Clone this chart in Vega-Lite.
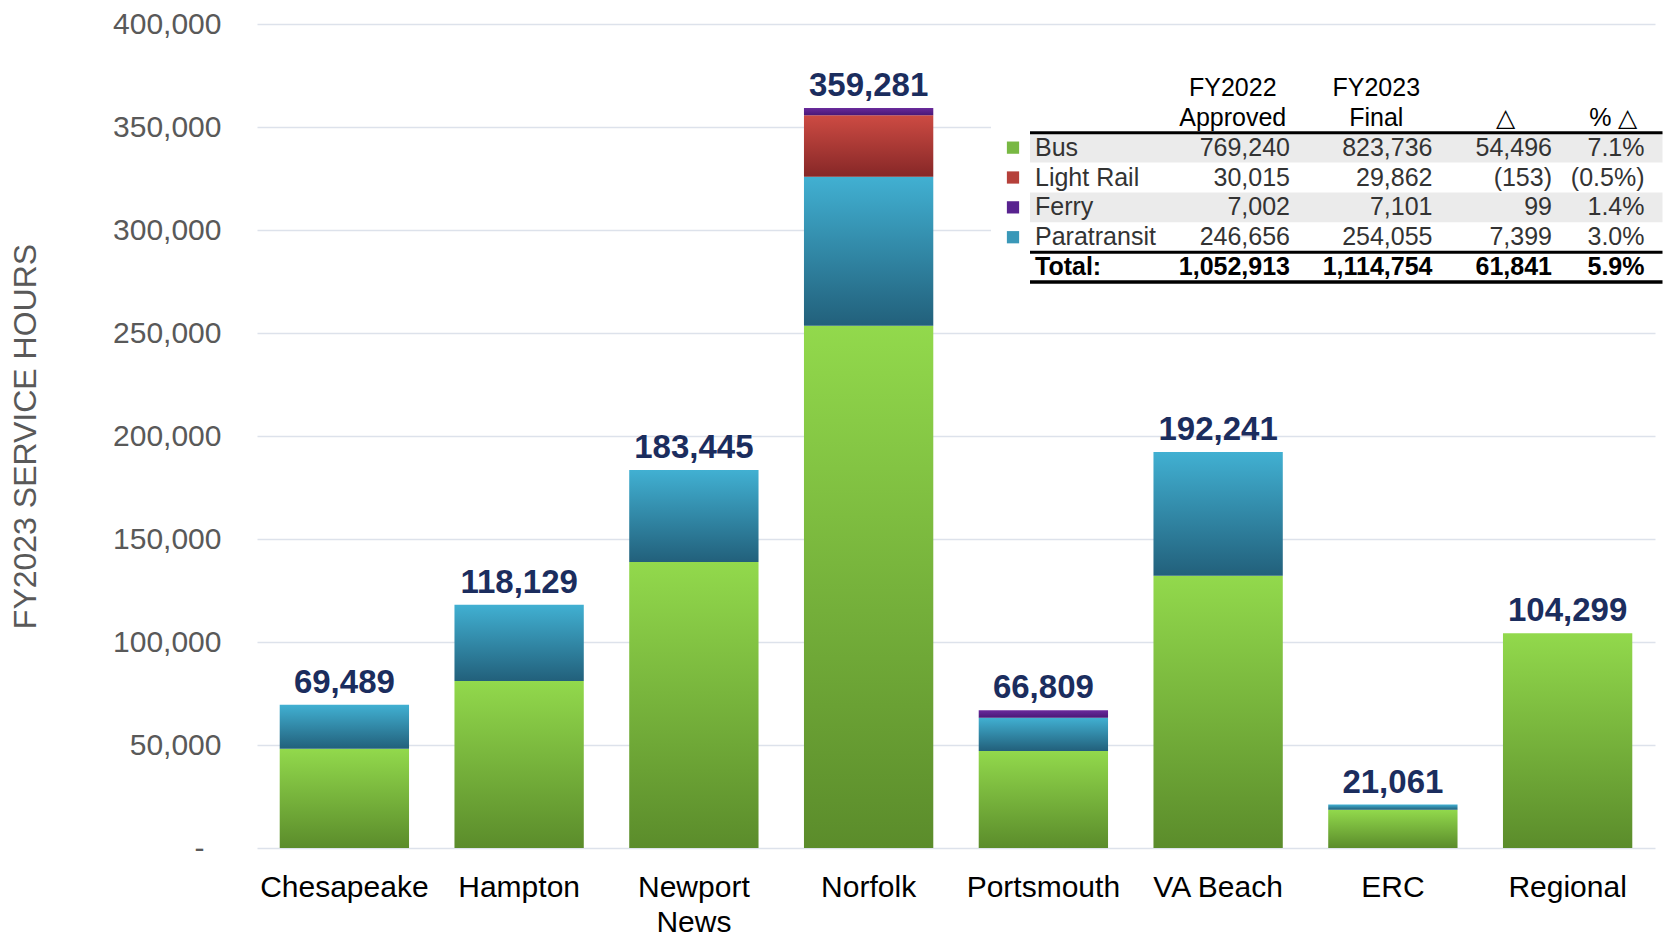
{
  "$schema": "https://vega.github.io/schema/vega-lite/v6.json",
  "width": 1398,
  "height": 824,
  "autosize": {"type": "none"},
  "padding": {"left": 257, "top": 24, "right": 10, "bottom": 90},
  "background": "white",
  "config": {"view": {"stroke": null}, "font": "Liberation Sans, Arial, sans-serif"},
  "datasets": {
    "hours": [
      {"city": "Chesapeake", "mode": "Bus", "hours": 48120},
      {"city": "Chesapeake", "mode": "Paratransit", "hours": 21369},
      {"city": "Hampton", "mode": "Bus", "hours": 81120},
      {"city": "Hampton", "mode": "Paratransit", "hours": 37009},
      {"city": "Newport News", "mode": "Bus", "hours": 138820},
      {"city": "Newport News", "mode": "Paratransit", "hours": 44625},
      {"city": "Norfolk", "mode": "Bus", "hours": 253517},
      {"city": "Norfolk", "mode": "Paratransit", "hours": 72352},
      {"city": "Norfolk", "mode": "Light Rail", "hours": 29862},
      {"city": "Norfolk", "mode": "Ferry", "hours": 3550},
      {"city": "Portsmouth", "mode": "Bus", "hours": 47120},
      {"city": "Portsmouth", "mode": "Paratransit", "hours": 16138},
      {"city": "Portsmouth", "mode": "Ferry", "hours": 3551},
      {"city": "VA Beach", "mode": "Bus", "hours": 132120},
      {"city": "VA Beach", "mode": "Paratransit", "hours": 60121},
      {"city": "ERC", "mode": "Bus", "hours": 18620},
      {"city": "ERC", "mode": "Paratransit", "hours": 2441},
      {"city": "Regional", "mode": "Bus", "hours": 104299}
    ],
    "table": [
      {"mode": "Bus", "fy22": 769240, "fy23": 823736, "delta": 54496, "pct": 0.071},
      {"mode": "Light Rail", "fy22": 30015, "fy23": 29862, "delta": -153, "pct": -0.005},
      {"mode": "Ferry", "fy22": 7002, "fy23": 7101, "delta": 99, "pct": 0.014},
      {"mode": "Paratransit", "fy22": 246656, "fy23": 254055, "delta": 7399, "pct": 0.03},
      {"mode": "Total:", "fy22": 1052913, "fy23": 1114754, "delta": 61841, "pct": 0.059}
    ],
    "headers": [
      {"column": "FY2022 Approved", "row": "h1", "label": "FY2022"},
      {"column": "FY2022 Approved", "row": "h2", "label": "Approved"},
      {"column": "FY2023 Final", "row": "h1", "label": "FY2023"},
      {"column": "FY2023 Final", "row": "h2", "label": "Final"},
      {"column": "Δ", "row": "h2", "label": "△"},
      {"column": "% Δ", "row": "h2", "label": "% △"}
    ]
  },
  "layer": [
    {
      "data": {"name": "hours"},
      "transform": [{"stack": "hours", "groupby": ["city"], "as": ["y0", "y1"]}],
      "encoding": {
        "x": {
          "field": "city", "type": "nominal",
          "sort": ["Chesapeake", "Hampton", "Newport News", "Norfolk", "Portsmouth", "VA Beach", "ERC", "Regional"],
          "scale": {"paddingInner": 0.26, "paddingOuter": 0.13},
          "axis": {
            "title": null, "labelAngle": 0, "labelFontSize": 30, "labelColor": "#000000",
            "labelFont": "Liberation Sans, Arial, sans-serif",
            "labelPadding": 24, "labelBaseline": "top", "ticks": false, "domain": false,
            "labelOverlap": false, "labelBound": false, "labelLineHeight": 35,
            "labelExpr": "datum.value === 'Newport News' ? ['Newport', 'News'] : datum.value"
          }
        },
        "y": {
          "field": "y0", "type": "quantitative",
          "scale": {"domain": [0, 400000], "nice": false},
          "axis": {
            "title": "FY2023 SERVICE HOURS",
            "values": [0, 50000, 100000, 150000, 200000, 250000, 300000, 350000, 400000],
            "labelExpr": "datum.value === 0 ? '-' : format(datum.value, ',')",
            "labelPadding": {"condition": {"test": "datum.value === 0", "value": 53}, "value": 36},
            "labelFontSize": 30, "labelColor": "#595959", "labelFont": "Liberation Sans, Arial, sans-serif",
            "ticks": false, "domain": false, "grid": true,
            "gridColor": "#dde2eb", "gridWidth": 1.3,
            "titleFontSize": 32, "titleFont": "Liberation Sans, Arial, sans-serif", "titleFontWeight": "normal",
            "titleColor": "#595959", "titlePadding": 70
          }
        }
      },
      "layer": [
        {
          "transform": [{"filter": "datum.mode === 'Bus'"}],
          "mark": {"type": "bar", "color": {"gradient": "linear", "x1": 0, "y1": 0, "x2": 0, "y2": 1,
            "stops": [{"offset": 0, "color": "#92d94c"}, {"offset": 1, "color": "#5b8c2b"}]}},
          "encoding": {"y2": {"field": "y1"}}
        },
        {
          "transform": [{"filter": "datum.mode === 'Paratransit'"}],
          "mark": {"type": "bar", "color": {"gradient": "linear", "x1": 0, "y1": 0, "x2": 0, "y2": 1,
            "stops": [{"offset": 0, "color": "#41b0d2"}, {"offset": 1, "color": "#22607b"}]}},
          "encoding": {"y2": {"field": "y1"}}
        },
        {
          "transform": [{"filter": "datum.mode === 'Light Rail'"}],
          "mark": {"type": "bar", "color": {"gradient": "linear", "x1": 0, "y1": 0, "x2": 0, "y2": 1,
            "stops": [{"offset": 0, "color": "#cd4b43"}, {"offset": 1, "color": "#862727"}]}},
          "encoding": {"y2": {"field": "y1"}}
        },
        {
          "transform": [{"filter": "datum.mode === 'Ferry'"}],
          "mark": {"type": "bar", "color": {"gradient": "linear", "x1": 0, "y1": 0, "x2": 0, "y2": 1,
            "stops": [{"offset": 0, "color": "#6a2a9c"}, {"offset": 1, "color": "#4a1877"}]}},
          "encoding": {"y2": {"field": "y1"}}
        },
        {
          "transform": [{"aggregate": [{"op": "sum", "field": "hours", "as": "total"}], "groupby": ["city"]}],
          "mark": {"type": "text", "fontSize": 33, "fontWeight": "bold", "color": "#1b2d5e",
            "baseline": "alphabetic", "dy": -12, "font": "Liberation Sans, Arial, sans-serif"},
          "encoding": {
            "y": {
              "field": "total", "type": "quantitative",
              "scale": {"domain": [0, 400000], "nice": false},
              "axis": {
                "title": "FY2023 SERVICE HOURS",
                "values": [0, 50000, 100000, 150000, 200000, 250000, 300000, 350000, 400000],
                "labelExpr": "datum.value === 0 ? '-' : format(datum.value, ',')",
                "labelPadding": {"condition": {"test": "datum.value === 0", "value": 53}, "value": 36},
                "labelFontSize": 30, "labelColor": "#595959", "labelFont": "Liberation Sans, Arial, sans-serif",
                "ticks": false, "domain": false, "grid": true,
                "gridColor": "#dde2eb", "gridWidth": 1.3,
                "titleFontSize": 32, "titleFont": "Liberation Sans, Arial, sans-serif", "titleFontWeight": "normal",
                "titleColor": "#595959", "titlePadding": 70
              }
            },
            "text": {"field": "total", "type": "quantitative", "format": ","}
          }
        }
      ]
    },
    {
      "data": {"name": "table"},
      "layer": [
        {
          "mark": {"type": "rect", "xOffset": -39, "color": "#ffffff"},
          "encoding": {
            "x": {"datum": "label", "type": "nominal", "bandPosition": 0, "axis": null,
              "scale": {"type": "band", "domain": ["label", "FY2022 Approved", "FY2023 Final", "Δ", "% Δ", "end"], "range": [773, 1532], "paddingInner": 0, "paddingOuter": 0}},
            "x2": {"datum": "end", "bandPosition": 0},
            "y": {"field": "mode", "type": "nominal", "axis": null,
              "scale": {"type": "band", "domain": ["h1", "h2", "Bus", "Light Rail", "Ferry", "Paratransit", "Total:"], "range": [49, 258], "paddingInner": 0, "paddingOuter": 0}}
          }
        },
        {
          "data": {"name": "headers"},
          "mark": {"type": "rect", "xOffset": -39, "color": "#ffffff"},
          "encoding": {
            "x": {"datum": "label", "type": "nominal", "bandPosition": 0, "axis": null,
              "scale": {"type": "band", "domain": ["label", "FY2022 Approved", "FY2023 Final", "Δ", "% Δ", "end"], "range": [773, 1532], "paddingInner": 0, "paddingOuter": 0}},
            "x2": {"datum": "end", "bandPosition": 0},
            "y": {"field": "row", "type": "nominal", "axis": null,
              "scale": {"type": "band", "domain": ["h1", "h2", "Bus", "Light Rail", "Ferry", "Paratransit", "Total:"], "range": [49, 258], "paddingInner": 0, "paddingOuter": 0}}
          }
        },
        {
          "transform": [{"filter": "datum.mode === 'Bus' || datum.mode === 'Ferry'"}],
          "mark": {"type": "rect", "color": "#ebebeb"},
          "encoding": {
            "x": {"datum": "label", "type": "nominal", "bandPosition": 0, "axis": null,
              "scale": {"type": "band", "domain": ["label", "FY2022 Approved", "FY2023 Final", "Δ", "% Δ", "end"], "range": [773, 1532], "paddingInner": 0, "paddingOuter": 0}},
            "x2": {"datum": "end", "bandPosition": 0},
            "y": {"field": "mode", "type": "nominal", "axis": null,
              "scale": {"type": "band", "domain": ["h1", "h2", "Bus", "Light Rail", "Ferry", "Paratransit", "Total:"], "range": [49, 258], "paddingInner": 0, "paddingOuter": 0}}
          }
        },
        {
          "transform": [{"filter": "datum.mode === 'Bus' || datum.mode === 'Total:'"}],
          "mark": {"type": "rule", "strokeWidth": 3, "color": "#000000"},
          "encoding": {
            "x": {"datum": "label", "type": "nominal", "bandPosition": 0, "axis": null,
              "scale": {"type": "band", "domain": ["label", "FY2022 Approved", "FY2023 Final", "Δ", "% Δ", "end"], "range": [773, 1532], "paddingInner": 0, "paddingOuter": 0}},
            "x2": {"datum": "end", "bandPosition": 0},
            "y": {"field": "mode", "type": "nominal", "bandPosition": 0, "axis": null,
              "scale": {"type": "band", "domain": ["h1", "h2", "Bus", "Light Rail", "Ferry", "Paratransit", "Total:"], "range": [49, 258], "paddingInner": 0, "paddingOuter": 0}}
          }
        },
        {
          "transform": [{"filter": "datum.mode === 'Total:'"}],
          "mark": {"type": "rule", "strokeWidth": 3.5, "color": "#000000"},
          "encoding": {
            "x": {"datum": "label", "type": "nominal", "bandPosition": 0, "axis": null,
              "scale": {"type": "band", "domain": ["label", "FY2022 Approved", "FY2023 Final", "Δ", "% Δ", "end"], "range": [773, 1532], "paddingInner": 0, "paddingOuter": 0}},
            "x2": {"datum": "end", "bandPosition": 0},
            "y": {"field": "mode", "type": "nominal", "bandPosition": 1, "axis": null,
              "scale": {"type": "band", "domain": ["h1", "h2", "Bus", "Light Rail", "Ferry", "Paratransit", "Total:"], "range": [49, 258], "paddingInner": 0, "paddingOuter": 0}}
          }
        },
        {
          "transform": [{"filter": "datum.mode !== 'Total:'"}],
          "mark": {"type": "point", "shape": "square", "filled": true, "size": 150, "opacity": 1, "xOffset": -17},
          "encoding": {
            "x": {"datum": "label", "type": "nominal", "bandPosition": 0, "axis": null,
              "scale": {"type": "band", "domain": ["label", "FY2022 Approved", "FY2023 Final", "Δ", "% Δ", "end"], "range": [773, 1532], "paddingInner": 0, "paddingOuter": 0}},
            "y": {"field": "mode", "type": "nominal", "axis": null,
              "scale": {"type": "band", "domain": ["h1", "h2", "Bus", "Light Rail", "Ferry", "Paratransit", "Total:"], "range": [49, 258], "paddingInner": 0, "paddingOuter": 0}},
            "color": {"field": "mode", "type": "nominal", "legend": null,
              "scale": {"domain": ["Bus", "Light Rail", "Ferry", "Paratransit"], "range": ["#78b843", "#b5403a", "#58238f", "#3a98b8"]}}
          }
        },
        {
          "transform": [{"filter": "datum.mode !== 'Total:'"}],
          "mark": {"type": "text", "align": "left", "baseline": "middle", "dx": 5, "fontSize": 25, "color": "#333333"},
          "encoding": {
            "x": {"datum": "label", "type": "nominal", "bandPosition": 0, "axis": null,
              "scale": {"type": "band", "domain": ["label", "FY2022 Approved", "FY2023 Final", "Δ", "% Δ", "end"], "range": [773, 1532], "paddingInner": 0, "paddingOuter": 0}},
            "y": {"field": "mode", "type": "nominal", "axis": null,
              "scale": {"type": "band", "domain": ["h1", "h2", "Bus", "Light Rail", "Ferry", "Paratransit", "Total:"], "range": [49, 258], "paddingInner": 0, "paddingOuter": 0}},
            "text": {"field": "mode"}
          }
        },
        {
          "transform": [{"filter": "datum.mode !== 'Total:'"}],
          "mark": {"type": "text", "align": "right", "baseline": "middle", "dx": 7, "fontSize": 25, "color": "#333333"},
          "encoding": {
            "x": {"datum": "FY2022 Approved", "type": "nominal", "bandPosition": 1, "axis": null,
              "scale": {"type": "band", "domain": ["label", "FY2022 Approved", "FY2023 Final", "Δ", "% Δ", "end"], "range": [773, 1532], "paddingInner": 0, "paddingOuter": 0}},
            "y": {"field": "mode", "type": "nominal", "axis": null,
              "scale": {"type": "band", "domain": ["h1", "h2", "Bus", "Light Rail", "Ferry", "Paratransit", "Total:"], "range": [49, 258], "paddingInner": 0, "paddingOuter": 0}},
            "text": {"field": "fy22", "type": "quantitative", "format": ","}
          }
        },
        {
          "transform": [{"filter": "datum.mode !== 'Total:'"}],
          "mark": {"type": "text", "align": "right", "baseline": "middle", "dx": 23, "fontSize": 25, "color": "#333333"},
          "encoding": {
            "x": {"datum": "FY2023 Final", "type": "nominal", "bandPosition": 1, "axis": null,
              "scale": {"type": "band", "domain": ["label", "FY2022 Approved", "FY2023 Final", "Δ", "% Δ", "end"], "range": [773, 1532], "paddingInner": 0, "paddingOuter": 0}},
            "y": {"field": "mode", "type": "nominal", "axis": null,
              "scale": {"type": "band", "domain": ["h1", "h2", "Bus", "Light Rail", "Ferry", "Paratransit", "Total:"], "range": [49, 258], "paddingInner": 0, "paddingOuter": 0}},
            "text": {"field": "fy23", "type": "quantitative", "format": ","}
          }
        },
        {
          "transform": [{"filter": "datum.mode !== 'Total:'"}],
          "mark": {"type": "text", "align": "right", "baseline": "middle", "dx": 16, "fontSize": 25, "color": "#333333"},
          "encoding": {
            "x": {"datum": "Δ", "type": "nominal", "bandPosition": 1, "axis": null,
              "scale": {"type": "band", "domain": ["label", "FY2022 Approved", "FY2023 Final", "Δ", "% Δ", "end"], "range": [773, 1532], "paddingInner": 0, "paddingOuter": 0}},
            "y": {"field": "mode", "type": "nominal", "axis": null,
              "scale": {"type": "band", "domain": ["h1", "h2", "Bus", "Light Rail", "Ferry", "Paratransit", "Total:"], "range": [49, 258], "paddingInner": 0, "paddingOuter": 0}},
            "text": {"field": "delta", "type": "quantitative", "format": "(,.0f"}
          }
        },
        {
          "transform": [{"filter": "datum.mode !== 'Total:'"}],
          "mark": {"type": "text", "align": "right", "baseline": "middle", "dx": -18, "fontSize": 25, "color": "#333333"},
          "encoding": {
            "x": {"datum": "% Δ", "type": "nominal", "bandPosition": 1, "axis": null,
              "scale": {"type": "band", "domain": ["label", "FY2022 Approved", "FY2023 Final", "Δ", "% Δ", "end"], "range": [773, 1532], "paddingInner": 0, "paddingOuter": 0}},
            "y": {"field": "mode", "type": "nominal", "axis": null,
              "scale": {"type": "band", "domain": ["h1", "h2", "Bus", "Light Rail", "Ferry", "Paratransit", "Total:"], "range": [49, 258], "paddingInner": 0, "paddingOuter": 0}},
            "text": {"field": "pct", "type": "quantitative", "format": "(.1%"}
          }
        },
        {
          "transform": [{"filter": "datum.mode === 'Total:'"}],
          "mark": {"type": "text", "align": "left", "baseline": "middle", "dx": 5, "fontSize": 25, "fontWeight": "bold", "color": "#000000"},
          "encoding": {
            "x": {"datum": "label", "type": "nominal", "bandPosition": 0, "axis": null,
              "scale": {"type": "band", "domain": ["label", "FY2022 Approved", "FY2023 Final", "Δ", "% Δ", "end"], "range": [773, 1532], "paddingInner": 0, "paddingOuter": 0}},
            "y": {"field": "mode", "type": "nominal", "axis": null,
              "scale": {"type": "band", "domain": ["h1", "h2", "Bus", "Light Rail", "Ferry", "Paratransit", "Total:"], "range": [49, 258], "paddingInner": 0, "paddingOuter": 0}},
            "text": {"field": "mode"}
          }
        },
        {
          "transform": [{"filter": "datum.mode === 'Total:'"}],
          "mark": {"type": "text", "align": "right", "baseline": "middle", "dx": 7, "fontSize": 25, "fontWeight": "bold", "color": "#000000"},
          "encoding": {
            "x": {"datum": "FY2022 Approved", "type": "nominal", "bandPosition": 1, "axis": null,
              "scale": {"type": "band", "domain": ["label", "FY2022 Approved", "FY2023 Final", "Δ", "% Δ", "end"], "range": [773, 1532], "paddingInner": 0, "paddingOuter": 0}},
            "y": {"field": "mode", "type": "nominal", "axis": null,
              "scale": {"type": "band", "domain": ["h1", "h2", "Bus", "Light Rail", "Ferry", "Paratransit", "Total:"], "range": [49, 258], "paddingInner": 0, "paddingOuter": 0}},
            "text": {"field": "fy22", "type": "quantitative", "format": ","}
          }
        },
        {
          "transform": [{"filter": "datum.mode === 'Total:'"}],
          "mark": {"type": "text", "align": "right", "baseline": "middle", "dx": 23, "fontSize": 25, "fontWeight": "bold", "color": "#000000"},
          "encoding": {
            "x": {"datum": "FY2023 Final", "type": "nominal", "bandPosition": 1, "axis": null,
              "scale": {"type": "band", "domain": ["label", "FY2022 Approved", "FY2023 Final", "Δ", "% Δ", "end"], "range": [773, 1532], "paddingInner": 0, "paddingOuter": 0}},
            "y": {"field": "mode", "type": "nominal", "axis": null,
              "scale": {"type": "band", "domain": ["h1", "h2", "Bus", "Light Rail", "Ferry", "Paratransit", "Total:"], "range": [49, 258], "paddingInner": 0, "paddingOuter": 0}},
            "text": {"field": "fy23", "type": "quantitative", "format": ","}
          }
        },
        {
          "transform": [{"filter": "datum.mode === 'Total:'"}],
          "mark": {"type": "text", "align": "right", "baseline": "middle", "dx": 16, "fontSize": 25, "fontWeight": "bold", "color": "#000000"},
          "encoding": {
            "x": {"datum": "Δ", "type": "nominal", "bandPosition": 1, "axis": null,
              "scale": {"type": "band", "domain": ["label", "FY2022 Approved", "FY2023 Final", "Δ", "% Δ", "end"], "range": [773, 1532], "paddingInner": 0, "paddingOuter": 0}},
            "y": {"field": "mode", "type": "nominal", "axis": null,
              "scale": {"type": "band", "domain": ["h1", "h2", "Bus", "Light Rail", "Ferry", "Paratransit", "Total:"], "range": [49, 258], "paddingInner": 0, "paddingOuter": 0}},
            "text": {"field": "delta", "type": "quantitative", "format": "(,.0f"}
          }
        },
        {
          "transform": [{"filter": "datum.mode === 'Total:'"}],
          "mark": {"type": "text", "align": "right", "baseline": "middle", "dx": -18, "fontSize": 25, "fontWeight": "bold", "color": "#000000"},
          "encoding": {
            "x": {"datum": "% Δ", "type": "nominal", "bandPosition": 1, "axis": null,
              "scale": {"type": "band", "domain": ["label", "FY2022 Approved", "FY2023 Final", "Δ", "% Δ", "end"], "range": [773, 1532], "paddingInner": 0, "paddingOuter": 0}},
            "y": {"field": "mode", "type": "nominal", "axis": null,
              "scale": {"type": "band", "domain": ["h1", "h2", "Bus", "Light Rail", "Ferry", "Paratransit", "Total:"], "range": [49, 258], "paddingInner": 0, "paddingOuter": 0}},
            "text": {"field": "pct", "type": "quantitative", "format": "(.1%"}
          }
        },
        {
          "data": {"name": "headers"},
          "transform": [{"filter": "datum.column === 'FY2022 Approved'"}],
          "mark": {"type": "text", "align": "center", "baseline": "middle", "dx": 13, "fontSize": 25, "color": "#000000"},
          "encoding": {
            "x": {"field": "column", "type": "nominal", "bandPosition": 0.5, "axis": null,
              "scale": {"type": "band", "domain": ["label", "FY2022 Approved", "FY2023 Final", "Δ", "% Δ", "end"], "range": [773, 1532], "paddingInner": 0, "paddingOuter": 0}},
            "y": {"field": "row", "type": "nominal", "axis": null,
              "scale": {"type": "band", "domain": ["h1", "h2", "Bus", "Light Rail", "Ferry", "Paratransit", "Total:"], "range": [49, 258], "paddingInner": 0, "paddingOuter": 0}},
            "text": {"field": "label"}
          }
        },
        {
          "data": {"name": "headers"},
          "transform": [{"filter": "datum.column === 'FY2023 Final'"}],
          "mark": {"type": "text", "align": "center", "baseline": "middle", "dx": 30, "fontSize": 25, "color": "#000000"},
          "encoding": {
            "x": {"field": "column", "type": "nominal", "bandPosition": 0.5, "axis": null,
              "scale": {"type": "band", "domain": ["label", "FY2022 Approved", "FY2023 Final", "Δ", "% Δ", "end"], "range": [773, 1532], "paddingInner": 0, "paddingOuter": 0}},
            "y": {"field": "row", "type": "nominal", "axis": null,
              "scale": {"type": "band", "domain": ["h1", "h2", "Bus", "Light Rail", "Ferry", "Paratransit", "Total:"], "range": [49, 258], "paddingInner": 0, "paddingOuter": 0}},
            "text": {"field": "label"}
          }
        },
        {
          "data": {"name": "headers"},
          "transform": [{"filter": "datum.column === 'Δ'"}],
          "mark": {"type": "text", "align": "center", "baseline": "middle", "dx": 33, "fontSize": 25, "color": "#000000"},
          "encoding": {
            "x": {"field": "column", "type": "nominal", "bandPosition": 0.5, "axis": null,
              "scale": {"type": "band", "domain": ["label", "FY2022 Approved", "FY2023 Final", "Δ", "% Δ", "end"], "range": [773, 1532], "paddingInner": 0, "paddingOuter": 0}},
            "y": {"field": "row", "type": "nominal", "axis": null,
              "scale": {"type": "band", "domain": ["h1", "h2", "Bus", "Light Rail", "Ferry", "Paratransit", "Total:"], "range": [49, 258], "paddingInner": 0, "paddingOuter": 0}},
            "text": {"field": "label"}
          }
        },
        {
          "data": {"name": "headers"},
          "transform": [{"filter": "datum.column === '% Δ'"}],
          "mark": {"type": "text", "align": "center", "baseline": "middle", "dx": 14, "fontSize": 25, "color": "#000000"},
          "encoding": {
            "x": {"field": "column", "type": "nominal", "bandPosition": 0.5, "axis": null,
              "scale": {"type": "band", "domain": ["label", "FY2022 Approved", "FY2023 Final", "Δ", "% Δ", "end"], "range": [773, 1532], "paddingInner": 0, "paddingOuter": 0}},
            "y": {"field": "row", "type": "nominal", "axis": null,
              "scale": {"type": "band", "domain": ["h1", "h2", "Bus", "Light Rail", "Ferry", "Paratransit", "Total:"], "range": [49, 258], "paddingInner": 0, "paddingOuter": 0}},
            "text": {"field": "label"}
          }
        }
      ]
    }
  ],
  "resolve": {"scale": {"x": "independent", "y": "independent"}}
}
